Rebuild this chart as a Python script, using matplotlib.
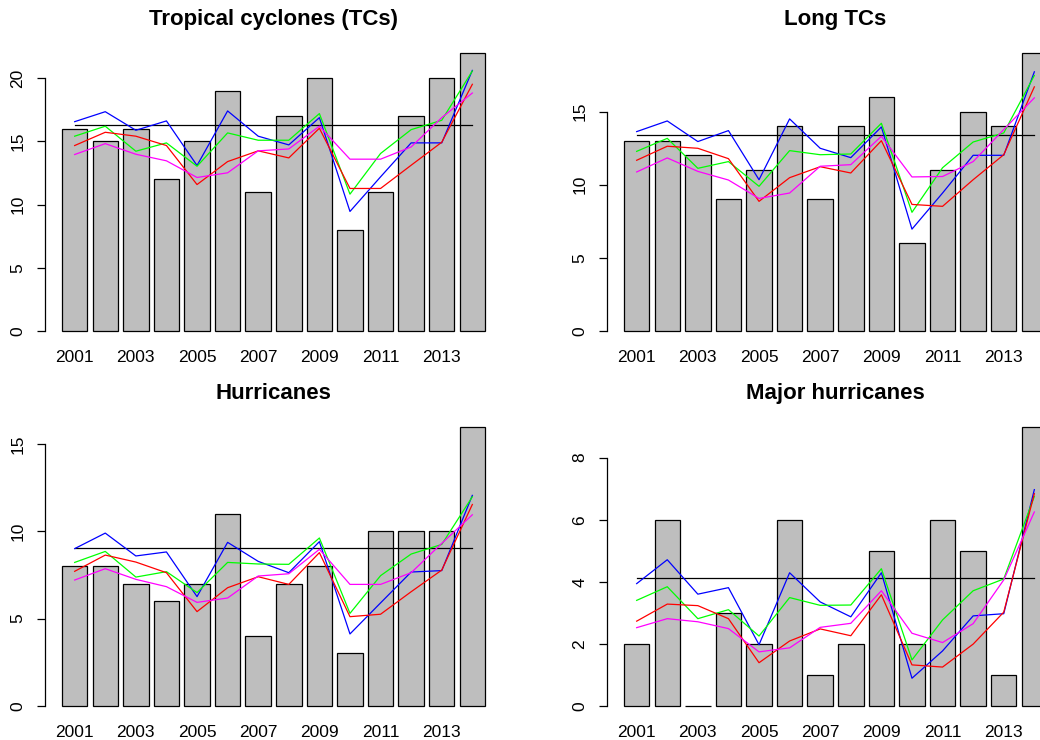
import matplotlib
matplotlib.use("Agg")
import matplotlib.pyplot as plt
import numpy as np

plt.rcParams['font.family'] = ['Liberation Sans', 'DejaVu Sans']

years = [2001, 2002, 2003, 2004, 2005, 2006, 2007,
         2008, 2009, 2010, 2011, 2012, 2013, 2014]

# observed seasonal counts (bars)
tc_obs = [16, 15, 16, 12, 15, 19, 11, 17, 20, 8, 11, 17, 20, 22]
long_obs = [13, 13, 12, 9, 11, 14, 9, 14, 16, 6, 11, 15, 14, 19]
hur_obs = [8, 8, 7, 6, 7, 11, 4, 7, 8, 3, 10, 10, 10, 16]
major_obs = [2, 6, 0, 3, 2, 6, 1, 2, 5, 2, 6, 5, 1, 9]

# climatological level (black line)
tc_clim = 16.3
long_clim = 13.38
hur_clim = 9.04
major_clim = 4.11

# forecast series, one per colour
tc_blue = [16.57, 17.36, 15.89, 16.63, 13.10, 17.42, 15.42, 14.73, 16.89, 9.46, 12.2, 14.89, 14.89, 20.63]
tc_green = [15.42, 16.21, 14.23, 14.89, 13.04, 15.68, 15.10, 15.10, 17.21, 10.83, 14.05, 15.94, 16.68, 20.58]
tc_red = [14.68, 15.73, 15.42, 14.68, 11.59, 13.41, 14.26, 13.70, 16.05, 11.28, 11.28, 13.12, 14.94, 19.53]
tc_magenta = [13.97, 14.83, 13.99, 13.47, 12.15, 12.52, 14.26, 14.41, 16.21, 13.60, 13.60, 14.57, 16.89, 18.84]

long_blue = [13.63, 14.36, 12.95, 13.70, 10.34, 14.50, 12.49, 11.85, 13.95, 6.96, 9.43, 12.01, 12.01, 17.72]
long_green = [12.28, 13.17, 11.12, 11.58, 9.89, 12.33, 12.05, 12.10, 14.20, 8.11, 11.16, 12.92, 13.54, 17.47]
long_red = [11.67, 12.63, 12.49, 11.78, 8.86, 10.48, 11.23, 10.80, 13.01, 8.65, 8.52, 10.34, 12.05, 16.69]
long_magenta = [10.87, 11.83, 10.91, 10.32, 9.06, 9.43, 11.26, 11.37, 13.31, 10.53, 10.56, 11.58, 13.77, 15.94]

hur_blue = [9.01, 9.90, 8.59, 8.82, 6.26, 9.37, 8.28, 7.63, 9.41, 4.12, 5.90, 7.67, 7.75, 12.06]
hur_green = [8.22, 8.85, 7.38, 7.69, 6.49, 8.22, 8.13, 8.11, 9.62, 5.30, 7.46, 8.70, 9.25, 11.98]
hur_red = [7.71, 8.64, 8.24, 7.63, 5.40, 6.77, 7.40, 6.96, 8.78, 5.11, 5.25, 6.54, 7.78, 11.54]
hur_magenta = [7.21, 7.86, 7.25, 6.83, 5.93, 6.18, 7.44, 7.57, 8.97, 6.96, 6.96, 7.63, 9.31, 10.95]

major_blue = [3.94, 4.71, 3.60, 3.81, 1.97, 4.29, 3.35, 2.87, 4.29, 0.89, 1.77, 2.90, 2.97, 6.97]
major_green = [3.40, 3.84, 2.81, 3.10, 2.25, 3.49, 3.24, 3.25, 4.42, 1.48, 2.77, 3.71, 4.09, 6.75]
major_red = [2.73, 3.28, 3.23, 2.81, 1.39, 2.09, 2.48, 2.26, 3.58, 1.32, 1.25, 1.99, 3.02, 6.84]
major_magenta = [2.52, 2.81, 2.71, 2.49, 1.74, 1.87, 2.53, 2.66, 3.71, 2.34, 2.04, 2.65, 4.06, 6.25]

panels = [
    ("Tropical cyclones (TCs)", tc_obs, tc_clim,
     [tc_blue, tc_green, tc_red, tc_magenta], [0, 5, 10, 15, 20]),
    ("Long TCs", long_obs, long_clim,
     [long_blue, long_green, long_red, long_magenta], [0, 5, 10, 15]),
    ("Hurricanes", hur_obs, hur_clim,
     [hur_blue, hur_green, hur_red, hur_magenta], [0, 5, 10, 15]),
    ("Major hurricanes", major_obs, major_clim,
     [major_blue, major_green, major_red, major_magenta], [0, 2, 4, 6, 8]),
]
line_colors = ["#0000ff", "#00ff00", "#ff0000", "#ff00ff"]

# axes rectangles in figure fractions; right column runs off the page
W, H = 1040.0, 740.0
col_left = [45 / W, 607 / W]
col_width = 457 / W
row_bottom = [1 - 342 / H, 1 - 717 / H]
row_height = [300 / H, 301.5 / H]

fig = plt.figure(figsize=(10.4, 7.4), dpi=100)

for k, (title, obs, clim, series, yticks) in enumerate(panels):
    r, c = divmod(k, 2)
    ax = fig.add_axes([col_left[c], row_bottom[r], col_width, row_height[r]])

    x = 0.7 + 1.2 * np.arange(len(obs))
    ax.bar(x, obs, width=1.0, color="#bebebe", edgecolor="black",
           linewidth=0.9, zorder=1)
    ax.plot(x, [clim] * len(x), color="black", linewidth=0.9, zorder=2)
    for s, col in zip(series, line_colors):
        ax.plot(x, s, color=col, linewidth=0.9, zorder=3)

    top = max(obs)
    ax.set_xlim(0.2 - 0.04 * 16.6, 16.8 + 0.04 * 16.6)
    ax.set_ylim(-0.04 * top, 1.04 * top)

    for side in ["top", "right", "bottom"]:
        ax.spines[side].set_visible(False)
    ax.spines["left"].set_bounds(yticks[0], yticks[-1])
    ax.spines["left"].set_linewidth(0.9)

    ax.set_yticks(yticks)
    ax.set_yticklabels([str(t) for t in yticks], rotation=90, va="center")
    ax.tick_params(axis="y", length=6, width=0.9, pad=8, labelsize=12.5)

    ax.set_xticks(x[::2])
    ax.set_xticklabels([str(y) for y in years[::2]])
    ax.tick_params(axis="x", length=0, pad=6, labelsize=12.5)

    ax.set_title(title, fontsize=16, fontweight="bold", pad=12)

fig.savefig("out.png", dpi=100)
